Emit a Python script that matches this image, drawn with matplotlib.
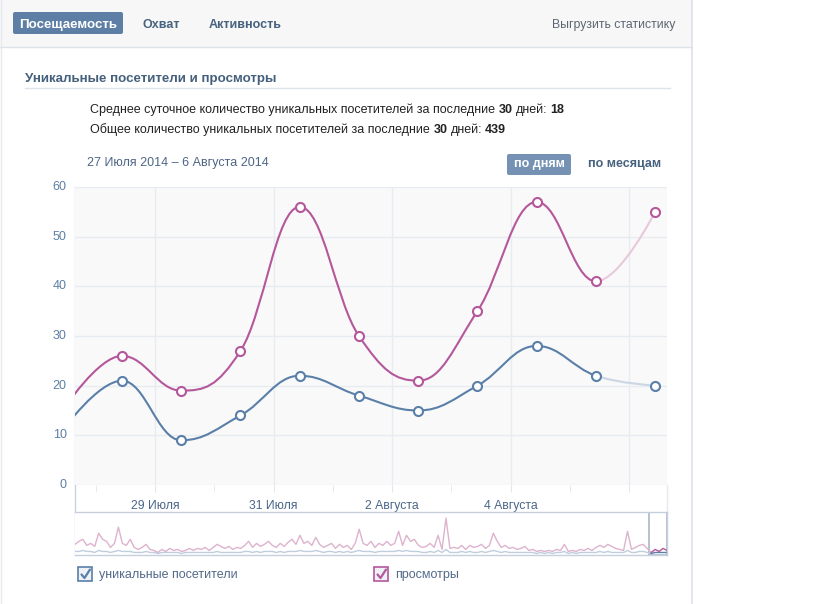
import matplotlib.pyplot as plt
from matplotlib.path import Path
from matplotlib.patches import PathPatch, Rectangle, FancyBboxPatch
from matplotlib.ticker import FixedLocator

plt.rcParams['font.family'] = ['Liberation Sans', 'DejaVu Sans']

# ---- data ----
# one point per day, 27 July .. 6 August 2014 (x in days from 27 Jul 00:00)
days = [0.44 + i for i in range(11)]
visitors = [11, 21, 9, 14, 22, 18, 15, 20, 28, 22, 20]
views = [15, 26, 19, 27, 56, 30, 21, 35, 57, 41, 55]
grid_days = [2, 4, 6, 8, 10]
grid_labels = ['29 Июля', '31 Июля', '2 Августа', '4 Августа', '']
minor_days = [1, 3, 5, 7, 9]
y_ticks = [0, 10, 20, 30, 40, 50, 60]

# navigator (whole history, ~3 days per value)
nav_views = [9, 12, 14, 8, 10, 7, 20, 14, 12, 6, 10, 26, 10, 8, 14, 6, 4, 6, 9, 4,
             3, 1, 4, 2, 5, 3, 4, 2, 3, 5, 3, 5, 4, 6, 3, 6, 9, 7, 5, 7,
             4, 6, 5, 8, 12, 6, 10, 7, 9, 12, 8, 6, 10, 7, 11, 14, 9, 18, 10, 12,
             8, 16, 9, 6, 8, 10, 5, 9, 6, 8, 4, 10, 24, 10, 8, 12, 6, 10, 8, 12,
             8, 10, 22, 8, 18, 12, 14, 8, 6, 7, 10, 6, 18, 4, 35, 5, 6, 5, 8, 4,
             8, 6, 7, 9, 5, 8, 20, 12, 6, 8, 5, 6, 4, 5, 7, 3, 4, 2, 3, 2,
             3, 2, 4, 3, 9, 2, 3, 2, 4, 3, 5, 3, 6, 8, 6, 9, 7, 5, 4, 3,
             22, 4, 6, 8, 9, 5, 1, 4, 2, 5, 3]
nav_visitors = [2, 2, 3, 2, 2, 1, 3, 2, 2, 1, 2, 3, 2, 2, 2, 1, 1, 1, 2, 1,
                1, 0, 1, 1, 1, 1, 1, 0, 1, 1, 1, 1, 1, 1, 1, 1, 2, 1, 1, 1,
                1, 1, 1, 2, 2, 1, 2, 1, 2, 2, 2, 1, 2, 1, 2, 2, 2, 3, 2, 2,
                2, 3, 2, 1, 2, 2, 1, 2, 1, 2, 1, 2, 3, 2, 2, 2, 1, 2, 2, 2,
                2, 2, 3, 2, 3, 2, 2, 2, 1, 1, 2, 1, 3, 1, 4, 1, 1, 1, 2, 1,
                2, 1, 1, 2, 1, 2, 3, 2, 1, 2, 1, 1, 1, 1, 1, 1, 1, 0, 1, 0,
                1, 0, 1, 1, 2, 0, 1, 0, 1, 1, 1, 1, 1, 2, 1, 2, 1, 1, 1, 1,
                3, 1, 1, 2, 2, 1, 0, 1, 1, 1, 1]
nav_selected = 4  # last values are inside the selection box

BLUE = '#5a7fa9'
PINK = '#b4579b'
BLUE_FADED = '#cbd7e4'
PINK_FADED = '#e8c9dc'
TEXT_BLUE = '#47627f'

W, H = 817, 604


def spline_segments(xs, ys, smoothing=1.5):
    # highcharts-like spline control points
    n = len(xs)
    denom = smoothing + 1
    left = [(xs[i], ys[i]) for i in range(n)]
    right = [(xs[i], ys[i]) for i in range(n)]
    for i in range(1, n - 1):
        px, py = xs[i], ys[i]
        lx, ly = xs[i - 1], ys[i - 1]
        nx, ny = xs[i + 1], ys[i + 1]
        lcx = (smoothing * px + lx) / denom
        lcy = (smoothing * py + ly) / denom
        rcx = (smoothing * px + nx) / denom
        rcy = (smoothing * py + ny) / denom
        corr = (rcy - lcy) * (rcx - px) / (rcx - lcx) + py - rcy
        lcy += corr
        rcy += corr
        if lcy > ly and lcy > py:
            lcy = max(ly, py); rcy = 2 * py - lcy
        elif lcy < ly and lcy < py:
            lcy = min(ly, py); rcy = 2 * py - lcy
        if rcy > ny and rcy > py:
            rcy = max(ny, py); lcy = 2 * py - rcy
        elif rcy < ny and rcy < py:
            rcy = min(ny, py); lcy = 2 * py - rcy
        left[i] = (lcx, lcy)
        right[i] = (rcx, rcy)
    segs = []
    for i in range(1, n):
        segs.append([(xs[i - 1], ys[i - 1]), right[i - 1], left[i], (xs[i], ys[i])])
    return segs


def draw_spline(ax, xs, ys, color, faded):
    segs = spline_segments(xs, ys)
    codes = [Path.MOVETO, Path.CURVE4, Path.CURVE4, Path.CURVE4]
    main = []
    for s in segs[:-1]:
        main += s
    ax.add_patch(PathPatch(Path(main, codes * (len(segs) - 1)), fill=False,
                           edgecolor=color, lw=1.5, zorder=3, capstyle='round'))
    ax.add_patch(PathPatch(Path(segs[-1], codes), fill=False,
                           edgecolor=faded, lw=1.5, zorder=3, capstyle='round'))
    ax.plot(xs, ys, 'o', ms=6.5, mfc='white', mec=color, mew=1.5, zorder=4)


def mixed_line(y, parts):
    # parts: (text, bold, gap before in points) written one after another
    prev = None
    for txt, bold, gap in parts:
        kw = dict(color='#222222', fontsize=9, fontweight='bold' if bold else 'normal')
        if prev is None:
            prev = page.text(90, y, txt, va='baseline', **kw)
        else:
            prev = page.annotate(txt, xycoords=prev, xy=(1, 0), xytext=(gap, 0),
                                 textcoords='offset points', va='bottom', **kw)


fig = plt.figure(figsize=(W / 100, H / 100), dpi=100)
page = fig.add_axes([0, 0, 1, 1])
page.set_xlim(0, W)
page.set_ylim(H, 0)
page.axis('off')

# card + top bar
page.add_patch(Rectangle((0, 0), 692, 47, fc='#f7f7f7', ec='none'))
page.plot([0, 692], [47, 47], color='#dde2e9', lw=1)
page.plot([692, 692], [0, H], color='#dde2e9', lw=1.2)
page.plot([0.5, 0.5], [0, H], color='#e6e9ee', lw=1)

page.add_patch(FancyBboxPatch((13, 12), 110, 22, boxstyle='round,pad=0,rounding_size=2',
                              fc='#5d7fa6', ec='none'))
page.text(68, 28, 'Посещаемость', color='white', fontsize=9.6, fontweight='bold',
          ha='center', va='baseline')
page.text(143, 28, 'Охват', color=TEXT_BLUE, fontsize=9, fontweight='bold', va='baseline')
page.text(209, 28, 'Активность', color=TEXT_BLUE, fontsize=9, fontweight='bold', va='baseline')
page.text(675, 28, 'Выгрузить статистику', color='#5c6672', fontsize=8.8,
          ha='right', va='baseline')

page.text(25, 82, 'Уникальные посетители и просмотры', color='#45607c', fontsize=9.6,
          fontweight='bold', va='baseline')
page.plot([25, 670], [88, 88], color='#dde3ea', lw=1)

mixed_line(113, [('Среднее суточное количество уникальных посетителей за последние', False, 0),
                 ('30', True, 2.6), ('дней:', False, 2.6), ('18', True, 1.6)])
mixed_line(133, [('Общее количество уникальных посетителей за последние', False, 0),
                 ('30', True, 2.6), ('дней:', False, 2.6), ('439', True, 1.6)])

page.text(87, 166, '27 Июля 2014 – 6 Августа 2014', color='#4d6585', fontsize=9,
          va='baseline')
page.add_patch(FancyBboxPatch((507, 154), 64, 21, boxstyle='round,pad=0,rounding_size=2',
                              fc='#7592b4', ec='none'))
page.text(539, 167, 'по дням', color='white', fontsize=9, fontweight='bold',
          ha='center', va='baseline')
page.text(588, 167, 'по месяцам', color=TEXT_BLUE, fontsize=9, fontweight='bold',
          va='baseline')

# strip under the plot and navigator frame
page.plot([75, 75], [187, 555], color='#c8d2de', lw=1, zorder=5)
page.plot([667, 667], [485, 512], color='#e6eaef', lw=1)

# legend
for bx, color, label in [(78, BLUE, 'уникальные посетители'), (374, PINK, 'просмотры')]:
    page.add_patch(Rectangle((bx, 567), 14, 14, fc='#eef2f6', ec=color, lw=1.2))
    page.plot([bx + 3.5, bx + 6.5, bx + 12], [574.5, 578, 569.5], color=color, lw=1.6,
              solid_capstyle='round', solid_joinstyle='round')
    page.text(bx + 21, 578, label, color='#52698a', fontsize=9, va='baseline')

# ---- main chart ----
ax = fig.add_axes([75 / W, 1 - 485 / H, (667 - 75) / W, (485 - 187) / H])
ax.set_facecolor('#f9f9f9')
ax.set_xlim(0.647, 10.64)
ax.set_ylim(0, 60)
for s in ax.spines.values():
    s.set_visible(False)
ax.yaxis.set_major_locator(FixedLocator(y_ticks))
ax.xaxis.set_major_locator(FixedLocator(grid_days))
ax.xaxis.set_minor_locator(FixedLocator(minor_days))
ax.set_xticklabels(grid_labels)
ax.grid(True, color='#e8ecf1', lw=1)
ax.set_axisbelow(True)
ax.tick_params(axis='y', length=0, pad=6, labelsize=9, labelcolor='#5d7fa5')
ax.tick_params(axis='x', which='major', length=5, color='#e3e8ee', pad=6,
               labelsize=8.8, labelcolor='#4a6688')
ax.tick_params(axis='x', which='minor', length=5, color='#e3e8ee')
for lab in ax.get_yticklabels():
    lab.set_verticalalignment('center')

draw_spline(ax, days, visitors, BLUE, BLUE_FADED)
draw_spline(ax, days, views, PINK, PINK_FADED)

# ---- navigator ----
nav = fig.add_axes([75 / W, 1 - 555 / H, (667 - 75) / W, (555 - 512) / H])
nav.set_facecolor('white')
n = len(nav_views)
idx = list(range(n))
nav.set_xlim(0, n - 1)
nav.set_ylim(-1.5, 41)
nav.set_xticks([])
nav.set_yticks([])
for s in nav.spines.values():
    s.set_color('#c5d0dc')
    s.set_linewidth(1)
nav.spines['left'].set_visible(False)
k = n - nav_selected - 1
nav.plot(idx[:k + 1], nav_visitors[:k + 1], color='#bfcddd', lw=1)
nav.plot(idx[:k + 1], nav_views[:k + 1], color='#ddb3cd', lw=1)
nav.plot(idx[k:], nav_visitors[k:], color=BLUE, lw=1)
nav.plot(idx[k:], nav_views[k:], color=PINK, lw=1)
nav.axvspan(k - 0.5, n - 1, fc='none', ec='#a9b8c9', lw=1.2)

fig.savefig('out.png', dpi=100)
